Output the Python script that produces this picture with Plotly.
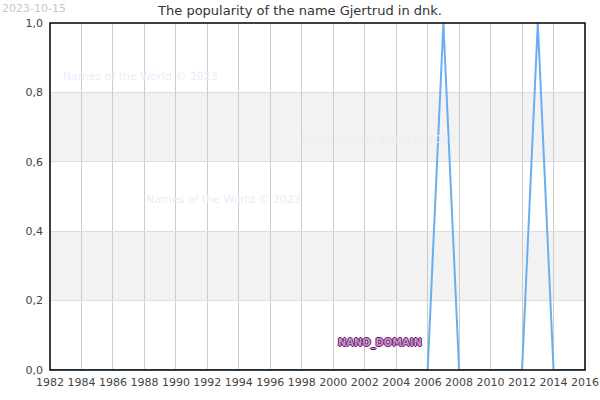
import plotly.graph_objects as go

years = list(range(1982, 2017))
# 1982..2006 -> 0, 2007 -> 1, 2008..2012 -> 0, 2013 -> 1, 2014..2016 -> 0
popularity = [0]*25 + [1] + [0]*5 + [1] + [0]*3
x_ticks = list(range(1982, 2017, 2))
y_ticks = [0.0, 0.2, 0.4, 0.6, 0.8, 1.0]
bands = [(0.2, 0.4), (0.6, 0.8)]
title_text = "The popularity of the name Gjertrud in dnk."
date_text = "2023-10-15"
watermark = "Names of the World © 2023"
watermark_pos = [(0.02, 0.845), (0.465, 0.665), (0.175, 0.49)]

fig = go.Figure()
fig.add_trace(go.Scatter(x=years, y=popularity, mode="lines",
                         line=dict(color="#6aaef0", width=2), hoverinfo="skip"))

shapes = []
for a, b in bands:
    shapes.append(dict(type="rect", xref="paper", yref="y", x0=0, x1=1, y0=a, y1=b,
                       fillcolor="#f2f2f2", line=dict(width=0), layer="below"))
shapes.append(dict(type="rect", xref="paper", yref="paper", x0=0, x1=1, y0=0, y1=1,
                   line=dict(color="#000", width=1.5), fillcolor="rgba(0,0,0,0)", layer="above"))

annotations = [
    dict(text=date_text, xref="paper", yref="paper", x=-50/535, y=1 + 23/347,
         xanchor="left", yanchor="top",
         showarrow=False, font=dict(family="DejaVu Sans", size=11, color="#c8c8c8")),
    dict(text="NANO_DOMAIN", xref="x", yref="y", x=2003.0, y=0.078, xanchor="center", yanchor="middle",
         showarrow=False,
         font=dict(family="DejaVu Sans Condensed", size=11, color="#c890c8", weight="bold",
                   shadow="1px 0 0 #6a1f6a, -1px 0 0 #6a1f6a, 0 1px 0 #6a1f6a, 0 -1px 0 #6a1f6a")),
]
for px, py in watermark_pos:
    annotations.append(dict(text=watermark, xref="paper", yref="paper", x=px, y=py,
                            xanchor="left", yanchor="middle", showarrow=False,
                            font=dict(family="DejaVu Sans", size=11, color="#ececf9")))

fig.update_layout(
    width=600, height=400,
    margin=dict(l=50, r=15, t=23, b=30),
    paper_bgcolor="white", plot_bgcolor="white",
    separators=", ",
    showlegend=False,
    title=dict(text=title_text, x=0.5, xanchor="center", y=1 - 10/400, yanchor="middle",
               font=dict(family="DejaVu Sans", size=13, color="#333")),
    xaxis=dict(range=[1982, 2016], tickvals=x_ticks, ticktext=[str(t) for t in x_ticks],
               showgrid=True, gridcolor="#cccccc", gridwidth=1, zeroline=False,
               showline=False, ticks="", ticklen=0, automargin=False, ticklabelstandoff=4,
               tickfont=dict(family="DejaVu Sans", size=11, color="#444")),
    yaxis=dict(range=[0, 1], tickvals=y_ticks, tickformat=".1f",
               showgrid=True, gridcolor="#dddddd", gridwidth=1, zeroline=False,
               showline=False, ticks="", automargin=False, ticklabelstandoff=6,
               tickfont=dict(family="DejaVu Sans", size=11, color="#444")),
    shapes=shapes, annotations=annotations,
)

fig.write_html("out.html", config={"displayModeBar": False},
               post_script="document.body.style.margin='0';")
